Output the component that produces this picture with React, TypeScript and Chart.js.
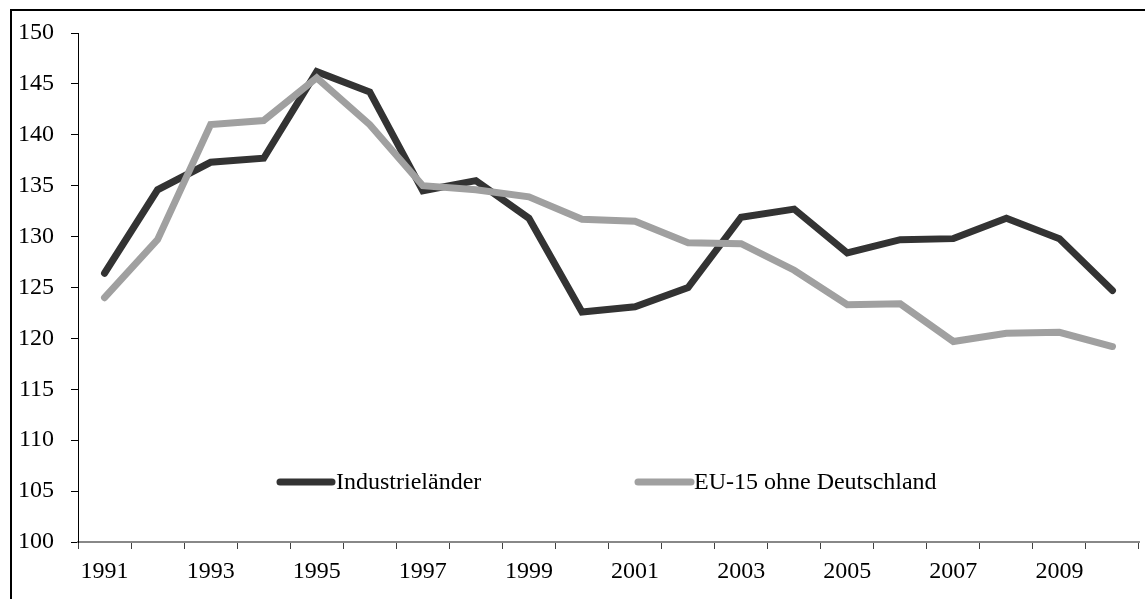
import React, { useEffect, useRef } from "react";
import { Chart, registerables } from "chart.js";

Chart.register(...registerables);

const years = [
  "1991", "1992", "1993", "1994", "1995", "1996", "1997", "1998", "1999", "2000",
  "2001", "2002", "2003", "2004", "2005", "2006", "2007", "2008", "2009", "2010",
];

const industrielaender = [
  126.4, 134.6, 137.3, 137.7, 146.2, 144.2, 134.5, 135.5, 131.8, 122.6,
  123.1, 125.0, 131.9, 132.7, 128.4, 129.7, 129.8, 131.8, 129.8, 124.7,
];

const eu15OhneDeutschland = [
  124.0, 129.7, 141.0, 141.4, 145.6, 141.0, 135.0, 134.6, 133.9, 131.7,
  131.5, 129.4, 129.3, 126.7, 123.3, 123.4, 119.7, 120.5, 120.6, 119.2,
];

const seriesLabels = ["Industrieländer", "EU-15 ohne Deutschland"];
const seriesColors = ["#333333", "#a0a0a0"];

const FONT = '"Liberation Serif", "Times New Roman", serif';

const legendPlugin = {
  id: "insideLegend",
  afterDraw(chart: any) {
    const ctx = chart.ctx;
    const items = [
      { x0: 280, x1: 332, tx: 336 },
      { x0: 638, x1: 691, tx: 694 },
    ];
    const y = 482;
    ctx.save();
    chart.data.datasets.forEach((ds: any, i: number) => {
      const it = items[i];
      ctx.beginPath();
      ctx.strokeStyle = ds.borderColor;
      ctx.lineWidth = 7;
      ctx.lineCap = "round";
      ctx.moveTo(it.x0, y);
      ctx.lineTo(it.x1, y);
      ctx.stroke();
      ctx.fillStyle = "#000";
      ctx.font = `24px ${FONT}`;
      ctx.textAlign = "left";
      ctx.textBaseline = "middle";
      ctx.fillText(ds.label, it.tx, y + 1);
    });
    ctx.restore();
  },
};

export default function App() {
  const ref = useRef<HTMLCanvasElement | null>(null);

  useEffect(() => {
    if (!ref.current) return;
    const chart = new Chart(ref.current, {
      type: "line",
      data: {
        labels: years,
        datasets: [
          {
            label: seriesLabels[0],
            data: industrielaender,
            borderColor: seriesColors[0],
            backgroundColor: seriesColors[0],
            borderWidth: 7,
            pointRadius: 0,
            tension: 0,
            borderJoinStyle: "miter",
            borderCapStyle: "round",
            order: 2,
          },
          {
            label: seriesLabels[1],
            data: eu15OhneDeutschland,
            borderColor: seriesColors[1],
            backgroundColor: seriesColors[1],
            borderWidth: 7,
            pointRadius: 0,
            tension: 0,
            borderJoinStyle: "miter",
            borderCapStyle: "round",
            order: 1,
          },
        ],
      },
      options: {
        responsive: false,
        animation: false,
        layout: { padding: { top: 33, right: 6, left: 0, bottom: 0 } },
        plugins: {
          legend: { display: false },
          tooltip: { enabled: false },
          title: { display: false },
        },
        scales: {
          x: {
            type: "category",
            offset: true,
            grid: {
              offset: true,
              drawOnChartArea: false,
              drawTicks: true,
              tickLength: 7,
              tickColor: "#404040",
              tickWidth: 1,
            },
            border: { display: true, color: "#888888", width: 2 },
            ticks: {
              autoSkip: false,
              maxRotation: 0,
              padding: 8,
              color: "#000",
              font: { family: FONT, size: 24 },
              callback: (_v: any, i: number) => (i % 2 === 0 ? years[i] : ""),
            },
            afterFit: (scale: any) => {
              scale.height = 57;
            },
          },
          y: {
            min: 100,
            max: 150,
            grid: {
              drawOnChartArea: false,
              drawTicks: true,
              tickLength: 7,
              tickColor: "#000",
              tickWidth: 1,
            },
            border: { display: true, color: "#000", width: 1 },
            ticks: {
              stepSize: 5,
              padding: 17,
              color: "#000",
              font: { family: FONT, size: 24 },
            },
            afterFit: (scale: any) => {
              scale.width = 78;
            },
          },
        },
      },
      plugins: [legendPlugin],
    });
    return () => chart.destroy();
  }, []);

  return (
    <div style={{ position: "fixed", left: 0, top: 0, width: 1145, height: 599, background: "#fff", overflow: "hidden" }}>
      <div
        style={{
          position: "absolute",
          left: 10,
          top: 9,
          width: 1135,
          height: 590,
          borderTop: "2px solid #000",
          borderLeft: "2px solid #000",
          boxSizing: "border-box",
        }}
      />
      <canvas
        ref={ref}
        width={1145}
        height={599}
        style={{ position: "absolute", left: 0, top: 0, display: "block" }}
      />
    </div>
  );
}
